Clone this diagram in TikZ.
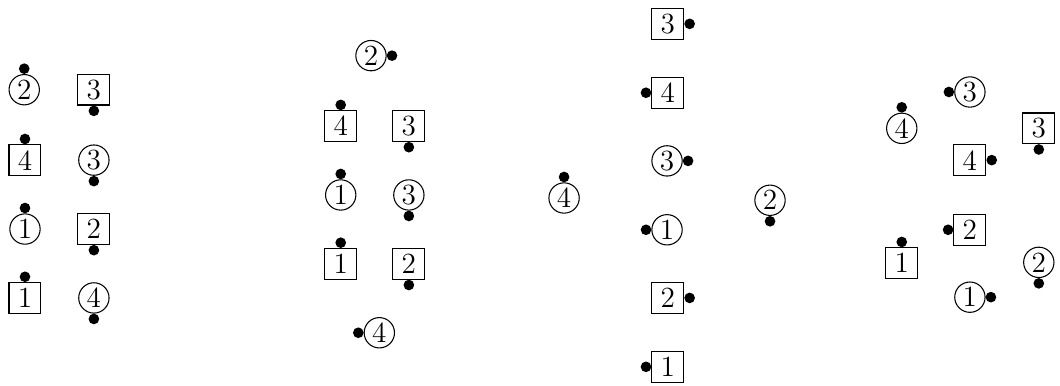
\documentclass[tikz,border=0pt]{standalone}
\usepackage{tikz}
\usetikzlibrary{positioning}
\tikzset{
  every node/.style={font=\fontsize{11}{13}\selectfont},
  cnode/.style={circle, draw, inner sep=0pt, minimum size=11.4pt},
  snode/.style={rectangle, draw, inner sep=0pt, minimum width=12pt, minimum height=11.5pt}
}
\begin{document}
\begin{tikzpicture}
        \useasboundingbox (0,0) rectangle (14,5.085);
        % first group
        \node[cnode] (ac2) at (0.32,3.90) {2};
        \node[snode] (as3) at (1.24,3.90) {3};
        \node[snode] (as4) at (0.33,2.97) {4};
        \node[cnode] (ac3) at (1.24,2.97) {3};
        \node[cnode] (ac1) at (0.33,2.06) {1};
        \node[snode] (as2) at (1.24,2.06) {2};
        \node[snode] (as1) at (0.33,1.15) {1};
        \node[cnode] (ac4) at (1.24,1.15) {4};
        % second group
        \node[cnode] (bc2) at (4.90,4.35) {2};
        \node[snode] (bs4) at (4.50,3.42) {4};
        \node[snode] (bs3) at (5.40,3.42) {3};
        \node[cnode] (bc1) at (4.50,2.51) {1};
        \node[cnode] (bc3) at (5.40,2.51) {3};
        \node[snode] (bs1) at (4.50,1.60) {1};
        \node[snode] (bs2) at (5.40,1.60) {2};
        \node[cnode] (bc4) at (5.01,0.69) {4};
        % third group
        \node[snode] (cs3) at (8.82,4.77) {3};
        \node[snode] (cs4) at (8.82,3.86) {4};
        \node[cnode] (cc3) at (8.81,2.96) {3};
        \node[cnode] (cc4) at (7.45,2.47) {4};
        \node[cnode] (cc2) at (10.17,2.44) {2};
        \node[cnode] (cc1) at (8.81,2.05) {1};
        \node[snode] (cs2) at (8.82,1.15) {2};
        \node[snode] (cs1) at (8.82,0.24) {1};
        % fourth group
        \node[cnode] (dc3) at (12.81,3.87) {3};
        \node[cnode] (dc4) at (11.91,3.39) {4};
        \node[snode] (ds3) at (13.72,3.39) {3};
        \node[snode] (ds4) at (12.81,2.97) {4};
        \node[snode] (ds2) at (12.81,2.05) {2};
        \node[snode] (ds1) at (11.91,1.61) {1};
        \node[cnode] (dc2) at (13.72,1.62) {2};
        \node[cnode] (dc1) at (12.81,1.16) {1};
        % dots
        \foreach \n/\a in {ac2/90, as3/-90, as4/90, ac3/-90, ac1/90, as2/-90, as1/90, ac4/-90,
                           bc2/0, bs4/90, bs3/-90, bc1/90, bc3/-90, bs1/90, bs2/-90, bc4/180,
                           cs3/0, cs4/180, cc3/0, cc4/90, cc2/-90, cc1/180, cs2/0, cs1/180,
                           dc3/180, dc4/90, ds3/-90, ds4/0, ds2/180, ds1/90, dc2/-90, dc1/0}
          \fill (\n.\a) ++(\a:2pt) circle (2pt);
      \end{tikzpicture}
\end{document}
